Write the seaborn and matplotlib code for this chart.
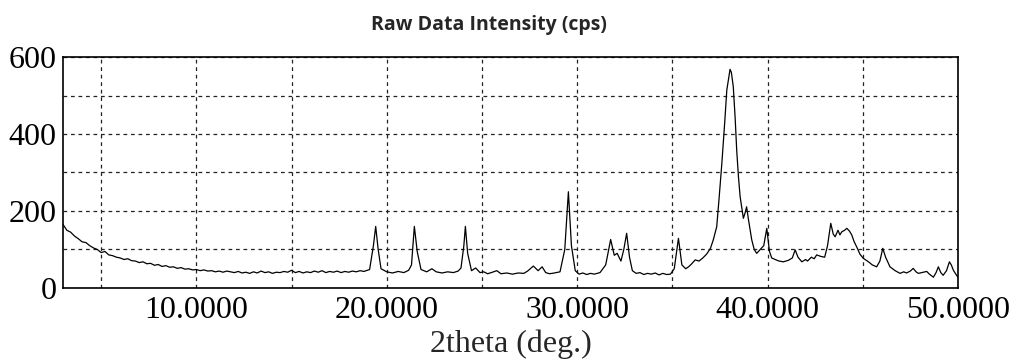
import pandas as pd
import seaborn as sns
import matplotlib.pyplot as plt

two_theta = [
    3.0, 3.2, 3.4, 3.6, 3.8, 4.0, 4.2, 4.4, 4.6, 4.8, 5.0, 5.2, 5.4, 5.6, 5.8,
    6.0, 6.2, 6.4, 6.6, 6.8, 7.0, 7.2, 7.4, 7.6, 7.8, 8.0, 8.2, 8.4, 8.6, 8.8,
    9.0, 9.2, 9.4, 9.6, 9.8, 10.0, 10.2, 10.4, 10.6, 10.8, 11.0, 11.2, 11.4,
    11.6, 11.8, 12.0, 12.2, 12.4, 12.6, 12.8, 13.0, 13.2, 13.4, 13.6, 13.8,
    14.0, 14.2, 14.4, 14.6, 14.8, 15.0, 15.2, 15.4, 15.6, 15.8, 16.0, 16.2,
    16.4, 16.6, 16.8, 17.0, 17.2, 17.4, 17.6, 17.8, 18.0, 18.2, 18.4, 18.6,
    18.8, 19.1, 19.3, 19.42, 19.55, 19.7, 20.0, 20.3, 20.6, 20.9,
    21.15, 21.3, 21.45, 21.6, 21.8, 22.1, 22.37, 22.6, 22.9, 23.2, 23.5,
    23.75, 23.9, 24.05, 24.13, 24.25, 24.45, 24.67, 24.9, 25.1, 25.3, 25.55,
    25.78, 26.0, 26.3, 26.6, 26.9, 27.2, 27.4, 27.7, 27.95, 28.16, 28.35,
    28.55, 28.8, 29.1, 29.35, 29.54, 29.7, 29.9, 30.1, 30.3, 30.5, 30.7,
    30.9, 31.2, 31.5, 31.76, 31.95, 32.1, 32.3, 32.45, 32.6, 32.75, 32.9,
    33.1, 33.3, 33.5, 33.7, 33.9, 34.1, 34.3, 34.5, 34.7, 34.9, 35.1, 35.32,
    35.5, 35.7, 35.85, 36.0, 36.2, 36.4, 36.6,
    36.8, 37.0, 37.15, 37.33, 37.45, 37.6, 37.75, 37.86, 38.03, 38.1, 38.2,
    38.3, 38.38, 38.47, 38.56, 38.73, 38.82, 38.9, 39.0, 39.17, 39.3, 39.43,
    39.6, 39.8, 39.96, 40.1, 40.22, 40.4, 40.6, 40.83, 41.1, 41.3, 41.45, 41.6,
    41.8, 42.0, 42.1, 42.3, 42.45, 42.58, 42.8, 43.0, 43.15, 43.32, 43.45,
    43.55, 43.7, 43.8, 43.9, 44.05, 44.16, 44.3, 44.42, 44.55, 44.68, 44.85,
    45.03, 45.3, 45.5, 45.73, 45.9, 46.05, 46.2, 46.43, 46.7, 46.96, 47.15,
    47.3, 47.5, 47.65, 47.8, 47.92, 48.1, 48.36, 48.5, 48.71, 48.85, 48.97,
    49.1, 49.22, 49.4, 49.55, 49.65, 49.76, 49.9, 50.0,
]
intensity = [
    165, 150, 145, 135, 128, 120, 118, 110, 104, 100, 92, 95, 86, 84, 80,
    78, 74, 76, 71, 70, 66, 68, 63, 64, 59, 61, 56, 58, 54, 55,
    51, 53, 49, 50, 47, 48, 45, 47, 44, 45, 42, 44, 41,
    44, 42, 40, 43, 39, 41, 38, 42, 39, 44, 40, 42,
    38, 41, 40, 43, 41, 46, 40, 43, 39, 42, 40, 44,
    41, 45, 40, 43, 41, 44, 40, 43, 41, 44, 42, 45,
    43, 48, 110, 160, 100, 50, 42, 39, 43, 40,
    46, 60, 160, 95, 48, 42, 50, 42, 39, 42, 40,
    44, 52, 110, 160, 90, 45, 52, 40, 42, 37, 41,
    45, 37, 39, 36, 39, 38, 44, 57, 45, 55, 40,
    37, 39, 42, 100, 250, 110, 45, 36, 39, 35, 38,
    36, 40, 60, 126, 85, 90, 70, 100, 142, 80, 45,
    38, 40, 35, 38, 36, 39, 34, 38, 35, 36, 50, 129,
    60, 50, 55, 62, 73, 70, 78,
    88, 103, 125, 159, 230, 324, 430, 514, 568, 560, 523,
    440, 358, 290, 237, 181, 195, 211, 177, 125, 100, 90,
    99, 110, 155, 95, 78, 74, 70, 68, 72, 78, 99, 80,
    68, 74, 70, 80, 76, 86, 82, 80, 110, 168, 140,
    133, 150, 138, 146, 150, 155, 148, 138, 120, 107, 88,
    77, 68, 60, 55, 70, 103, 80, 55, 45, 38, 42,
    39, 44, 51, 42, 38, 40, 43, 36, 28, 40, 55,
    40, 33, 45, 68, 60, 46, 35, 28,
]

x_ticks = [10, 20, 30, 40, 50]
x_tick_labels = ['10.0000', '20.0000', '30.0000', '40.0000', '50.0000']
y_ticks = [0, 200, 400, 600]

df = pd.DataFrame({'two_theta': two_theta, 'intensity': intensity})

sns.set_style('white')
plt.rcParams['font.family'] = ['Liberation Serif', 'DejaVu Serif']

fig = plt.figure(figsize=(10.12, 3.64), dpi=100)
ax = fig.add_axes([0.0623, 0.2088, 0.8843, 0.6346])

sns.lineplot(data=df, x='two_theta', y='intensity', ax=ax,
             color='black', linewidth=0.9)

ax.set_xlim(3, 50)
ax.set_ylim(0, 600)
ax.set_xticks(x_ticks)
ax.set_xticklabels(x_tick_labels)
ax.set_xticks([5, 15, 25, 35, 45], minor=True)
ax.set_yticks(y_ticks)
ax.set_yticks([100, 300, 500], minor=True)

# Пунктирная сетка как на исходнике
ax.grid(True, which='both', color='#222222', linestyle=(0, (3, 3)), linewidth=0.9)
ax.tick_params(axis='both', which='both', direction='in', length=4,
               labelsize=23, colors='black')
ax.tick_params(axis='x', pad=6)
ax.tick_params(axis='y', pad=4.5)
for s in ax.spines.values():
    s.set_color('black')
    s.set_linewidth(1.2)

ax.set_xlabel('2theta (deg.)', fontsize=23, labelpad=3)
ax.set_ylabel('')
fig.text(0.483, 0.932, 'Raw Data Intensity (cps)', ha='center', va='center',
         fontsize=14, fontweight='bold', family=['Open Sans', 'DejaVu Sans'])

plt.savefig('out.png', dpi=100)
